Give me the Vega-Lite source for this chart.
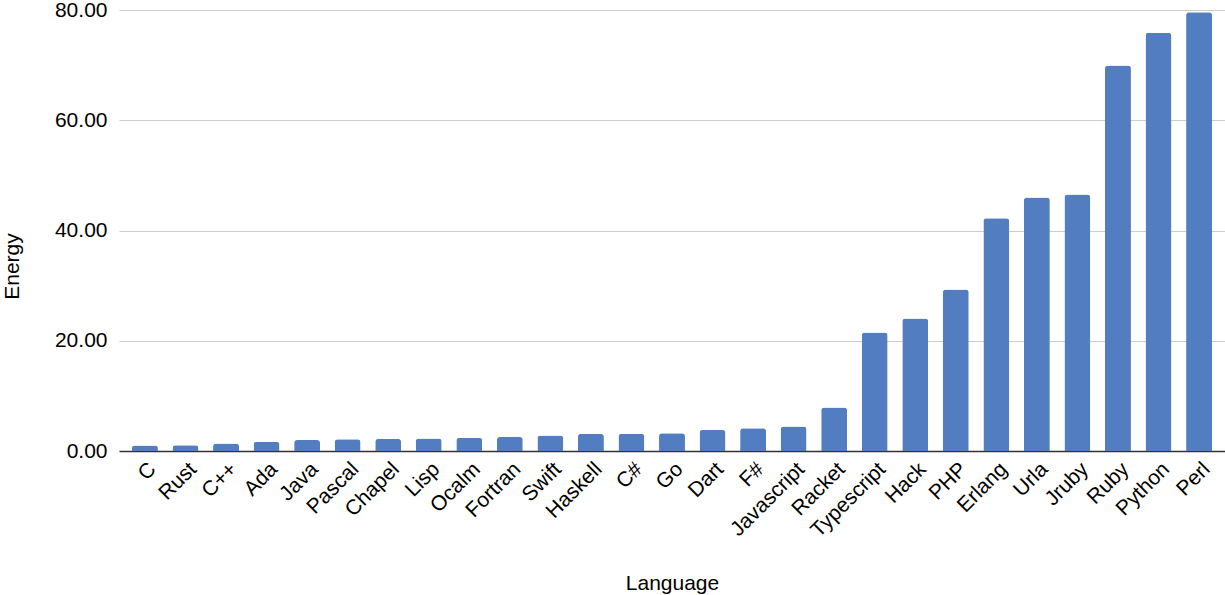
{
  "$schema": "https://vega.github.io/schema/vega-lite/v6.json",
  "autosize": "none",
  "width": 1106,
  "height": 441,
  "padding": {"left": 119, "top": 10, "right": 0, "bottom": 144},
  "background": "white",
  "config": {
    "font": "Liberation Sans",
    "view": {"stroke": null}
  },
  "data": {
    "values": [
      {"Language": "C", "Energy": 1.00},
      {"Language": "Rust", "Energy": 1.03},
      {"Language": "C++", "Energy": 1.34},
      {"Language": "Ada", "Energy": 1.70},
      {"Language": "Java", "Energy": 1.98},
      {"Language": "Pascal", "Energy": 2.14},
      {"Language": "Chapel", "Energy": 2.18},
      {"Language": "Lisp", "Energy": 2.27},
      {"Language": "Ocalm", "Energy": 2.40},
      {"Language": "Fortran", "Energy": 2.52},
      {"Language": "Swift", "Energy": 2.79},
      {"Language": "Haskell", "Energy": 3.10},
      {"Language": "C#", "Energy": 3.14},
      {"Language": "Go", "Energy": 3.23},
      {"Language": "Dart", "Energy": 3.83},
      {"Language": "F#", "Energy": 4.13},
      {"Language": "Javascript", "Energy": 4.45},
      {"Language": "Racket", "Energy": 7.91},
      {"Language": "Typescript", "Energy": 21.50},
      {"Language": "Hack", "Energy": 24.02},
      {"Language": "PHP", "Energy": 29.30},
      {"Language": "Erlang", "Energy": 42.23},
      {"Language": "Urla", "Energy": 45.98},
      {"Language": "Jruby", "Energy": 46.54},
      {"Language": "Ruby", "Energy": 69.91},
      {"Language": "Python", "Energy": 75.88},
      {"Language": "Perl", "Energy": 79.58}
    ]
  },
  "mark": {
    "type": "bar",
    "color": "#527dc0",
    "cornerRadiusTopLeft": 3,
    "cornerRadiusTopRight": 3
  },
  "encoding": {
    "x": {
      "field": "Language",
      "type": "nominal",
      "sort": null,
      "scale": {"paddingInner": 0.36, "paddingOuter": 0.32},
      "axis": {
        "title": "Language",
        "titleFont": "Liberation Sans",
        "titleFontSize": 21,
        "titleFontWeight": "normal",
        "titleColor": "#000000",
        "titleBaseline": "alphabetic",
        "titleY": 138,
        "labelAngle": -45,
        "labelFontSize": 21,
        "labelColor": "#000000",
        "labelPadding": 7,
        "ticks": false,
        "domainColor": "#333333",
        "domainWidth": 1.5
      }
    },
    "y": {
      "field": "Energy",
      "type": "quantitative",
      "scale": {"domain": [0, 80], "nice": false},
      "axis": {
        "title": "Energy",
        "titleFontSize": 21,
        "titleFontWeight": "normal",
        "titleColor": "#000000",
        "titleBaseline": "alphabetic",
        "titleX": -101,
        "titleY": 256,
        "values": [0, 20, 40, 60, 80],
        "format": ".2f",
        "labelFontSize": 21,
        "labelColor": "#000000",
        "labelPadding": 12,
        "ticks": false,
        "domain": false,
        "gridColor": "#cccccc",
        "gridWidth": 1
      }
    }
  }
}
